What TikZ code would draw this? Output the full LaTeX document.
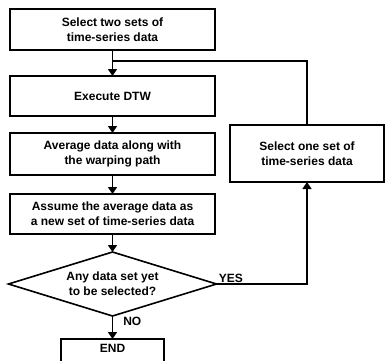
\documentclass[tikz,border=0pt]{standalone}
\usepackage{fontspec}
\setmainfont{Liberation Sans}
\usepackage{tikz}
\usetikzlibrary{shapes.geometric,arrows.meta,positioning,calc}

\begin{document}
\begin{tikzpicture}[
  x=1pt, y=1pt,
  block/.style={rectangle, draw, line width=1.6pt, outer sep=0pt,
                minimum width=205pt, minimum height=#1,
                text centered, align=center, inner sep=1pt,
                font=\fontsize{12}{15}\selectfont\bfseries},
  block/.default=40pt,
  decision/.style={diamond, aspect=3.2, draw, line width=1.6pt, outer sep=0pt,
                   minimum width=208pt, minimum height=64pt, inner sep=0pt,
                   align=center, font=\fontsize{12}{15}\selectfont\bfseries},
  arrow/.style={-{Triangle[width=9pt,length=7pt]}, line width=1.6pt},
  line/.style={line width=1.6pt},
  tag/.style={font=\fontsize{12}{14}\selectfont\bfseries, inner sep=1pt}
]
  \useasboundingbox (0,0) rectangle (385,-360);
  \clip (0,0) rectangle (385,-360);

  \node[block=41pt] (pick) at (112.5,-29.5) {Select two sets of\\time-series data};
  \node[block=40pt, below=26pt of pick] (dtw) {Execute DTW};
  \node[block=42pt, below=17pt of dtw] (avg) {Average data along with\\the warping path};
  \node[block=40pt, below=19pt of avg] (assume) {Assume the average data as\\a new set of time-series data};
  \node[decision, below=18pt of assume] (left) {Any data set yet\\to be selected?};
  \node[block, minimum width=103pt, minimum height=0pt,
        text height=12pt, text depth=10pt, below=23pt of left] (end) {END};
  \node[block=57pt, minimum width=154pt] (one) at (307,-153.5) {Select one set of\\time-series data};

  \coordinate (merge) at ($(pick.south)!0.42!(dtw.north)$);

  \draw[arrow] (pick) -- (dtw);
  \draw[arrow] (dtw) -- (avg);
  \draw[arrow] (avg) -- (assume);
  \draw[arrow] (assume) -- (left);
  \draw[arrow] (left) -- node[tag, right, pos=0.22, xshift=9pt] {NO} (end);
  \draw[arrow] (left.east) -| node[tag, above, pos=0.08] {YES} (one.south);
  \draw[line] (one.north) |- (merge);
\end{tikzpicture}
\end{document}
